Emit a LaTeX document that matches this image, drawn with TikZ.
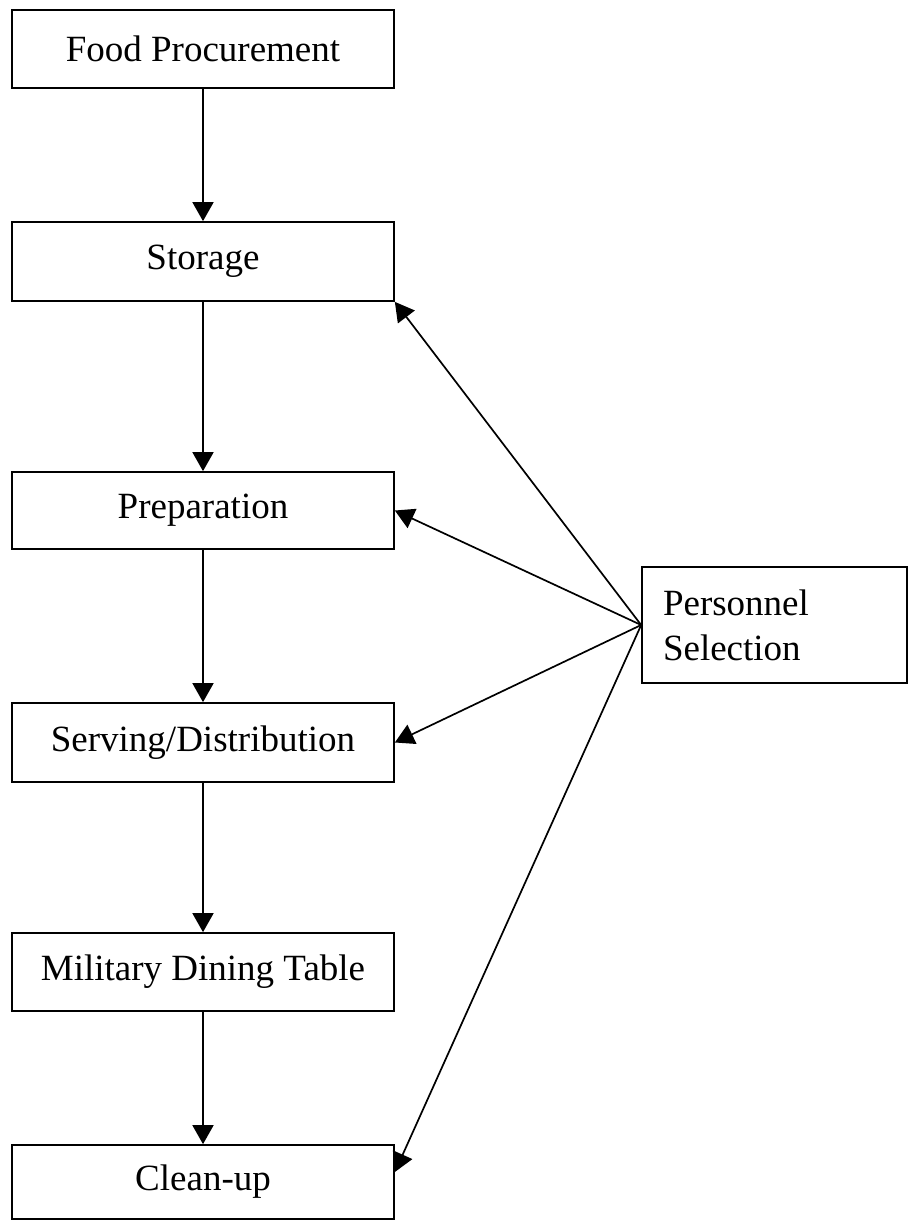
\documentclass[tikz,border=0pt]{standalone}
\usepackage{fontspec}
\setmainfont{Liberation Serif}
\usetikzlibrary{arrows.meta,calc}
\begin{document}
\begin{tikzpicture}[x=1pt,y=-1pt,
  stagebox/.style={draw=black, line width=1.7pt, minimum width=382pt, minimum height=78pt, inner sep=0pt,
    font=\fontsize{37}{45}\selectfont},
  flow/.style={line width=1.7pt, -{Triangle[length=19pt,width=21pt]}}]
\useasboundingbox (0,0) rectangle (912,1220);
\node[stagebox] (fp) at (203,49) {Food Procurement};
\node[stagebox, minimum height=79pt] (st) at (203,261.5) {Storage};
\node[stagebox, minimum height=77pt] (pr) at (203,510.5) {Preparation};
\node[stagebox, minimum height=79pt] (sv) at (203,742.5) {Serving/Distribution};
\node[stagebox] (md) at (203,972) {Military Dining Table};
\node[stagebox, minimum height=74pt] (cu) at (203,1182) {Clean-up};
\node[draw=black, line width=1.7pt, minimum width=265pt, minimum height=116pt, inner xsep=21pt, inner ysep=0pt,
  text width=223pt, align=left, font=\fontsize{37}{45}\selectfont] (ps) at (774.5,625) {Personnel\\Selection};
\draw[flow] (fp.south) -- (st.north);
\draw[flow] (st.south) -- (pr.north);
\draw[flow] (pr.south) -- (sv.north);
\draw[flow] (sv.south) -- (md.north);
\draw[flow] (md.south) -- (cu.north);
\draw[flow] (ps.west) -- (st.south east);
\draw[flow] (ps.west) -- (pr.east);
\draw[flow] (ps.west) -- (sv.east);
\draw[flow] (ps.west) -- ($(cu.east)+(0pt,10pt)$);
\end{tikzpicture}
\end{document}
